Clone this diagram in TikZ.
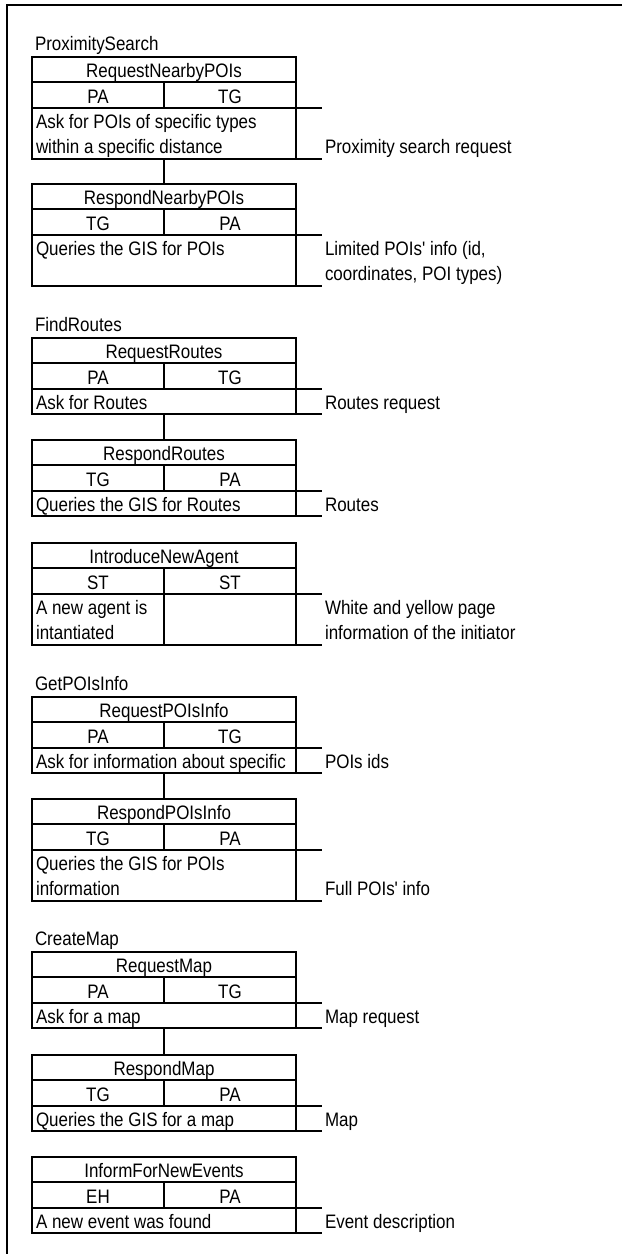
\documentclass[tikz,border=0pt]{standalone}
\usepackage{fontspec}
\newfontfamily\tablefont{Liberation Sans}[FakeStretch=0.87]
\usetikzlibrary{positioning}

\begin{document}
\begin{tikzpicture}[x=1pt, y=-1pt, line width=2pt, font=\tablefont\fontsize{19.5}{25}\selectfont,
  every node/.style={outer sep=0pt},
  msg/.style={draw, anchor=north west, minimum width=264pt, inner xsep=0pt, inner ysep=0pt, text height=20pt, text depth=5pt},
  role/.style={draw, minimum width=132pt, inner xsep=0pt, inner ysep=0pt, text height=21pt, text depth=4.5pt},
  body/.style={draw, anchor=north west, text width=256pt, align=flush left, inner xsep=4pt, inner ysep=0pt, text height=21pt, text depth=#1},
  body/.default=4.5pt,
  info/.style={text width=280pt, align=flush left, inner xsep=3pt, inner ysep=0pt, text height=21pt, text depth=#1},
  info/.default=4.5pt,
  grp/.style={anchor=base west, inner xsep=3pt}]
  \useasboundingbox (0,0) rectangle (622,1254);
  \draw (7,1254) -- (7,5) -- (622,5);

  \node[msg] (reqNear) at (32,57) {RequestNearbyPOIs};
  \node[grp] (proxSearch) at ([yshift=7pt]reqNear.north west) {ProximitySearch};
  \node[role, anchor=north west] (reqNearA) at (reqNear.south west) {PA};
  \node[role, anchor=north east] (reqNearB) at (reqNear.south east) {TG};
  \node[body=30pt] (reqNearD) at (reqNearA.south west) {Ask for POIs of specific types\\within a specific distance};
  \node[info, text height=46pt, text depth=5pt, right=26pt of reqNearD] (reqNearL) {Proximity search request};

  \node[msg] (resNear) at (32,184) {RespondNearbyPOIs};
  \node[role, anchor=north west] (resNearA) at (resNear.south west) {TG};
  \node[role, anchor=north east] (resNearB) at (resNear.south east) {PA};
  \node[body=30pt] (resNearD) at (resNearA.south west) {Queries the GIS for POIs};
  \node[info=30pt, right=26pt of resNearD] (resNearL) {Limited POIs' info (id,\\coordinates, POI types)};

  \node[msg] (reqRoutes) at (32,338) {RequestRoutes};
  \node[grp] (findRoutes) at ([yshift=7pt]reqRoutes.north west) {FindRoutes};
  \node[role, anchor=north west] (reqRoutesA) at (reqRoutes.south west) {PA};
  \node[role, anchor=north east] (reqRoutesB) at (reqRoutes.south east) {TG};
  \node[body] (reqRoutesD) at (reqRoutesA.south west) {Ask for Routes};
  \node[info, right=26pt of reqRoutesD] (reqRoutesL) {Routes request};

  \node[msg] (resRoutes) at (32,440) {RespondRoutes};
  \node[role, anchor=north west] (resRoutesA) at (resRoutes.south west) {TG};
  \node[role, anchor=north east] (resRoutesB) at (resRoutes.south east) {PA};
  \node[body] (resRoutesD) at (resRoutesA.south west) {Queries the GIS for Routes};
  \node[info, right=26pt of resRoutesD] (resRoutesL) {Routes};

  \node[msg] (newAgent) at (32,543) {IntroduceNewAgent};
  \node[role, anchor=north west] (newAgentA) at (newAgent.south west) {ST};
  \node[role, anchor=north east] (newAgentB) at (newAgent.south east) {ST};
  \node[body=30pt, text width=124pt] (newAgentD) at (newAgentA.south west) {A new agent is\\intantiated};
  \node[body=30pt, text width=124pt] (newAgentE) at (newAgentB.south west) {};
  \node[info=30pt, right=26pt of newAgentE] (newAgentL) {White and yellow page\\information of the initiator};

  \node[msg] (reqInfo) at (32,697) {RequestPOIsInfo};
  \node[grp] (getInfo) at ([yshift=7pt]reqInfo.north west) {GetPOIsInfo};
  \node[role, anchor=north west] (reqInfoA) at (reqInfo.south west) {PA};
  \node[role, anchor=north east] (reqInfoB) at (reqInfo.south east) {TG};
  \node[body] (reqInfoD) at (reqInfoA.south west) {\mbox{Ask for information about specific}};
  \node[info, right=26pt of reqInfoD] (reqInfoL) {POIs ids};

  \node[msg] (resInfo) at (32,799) {RespondPOIsInfo};
  \node[role, anchor=north west] (resInfoA) at (resInfo.south west) {TG};
  \node[role, anchor=north east] (resInfoB) at (resInfo.south east) {PA};
  \node[body=30pt] (resInfoD) at (resInfoA.south west) {Queries the GIS for POIs\\information};
  \node[info, text height=46pt, text depth=5pt, right=26pt of resInfoD] (resInfoL) {Full POIs' info};

  \node[msg] (reqMap) at (32,952) {RequestMap};
  \node[grp] (createMap) at ([yshift=7pt]reqMap.north west) {CreateMap};
  \node[role, anchor=north west] (reqMapA) at (reqMap.south west) {PA};
  \node[role, anchor=north east] (reqMapB) at (reqMap.south east) {TG};
  \node[body] (reqMapD) at (reqMapA.south west) {Ask for a map};
  \node[info, right=26pt of reqMapD] (reqMapL) {Map request};

  \node[msg] (resMap) at (32,1055) {RespondMap};
  \node[role, anchor=north west] (resMapA) at (resMap.south west) {TG};
  \node[role, anchor=north east] (resMapB) at (resMap.south east) {PA};
  \node[body] (resMapD) at (resMapA.south west) {Queries the GIS for a map};
  \node[info, right=26pt of resMapD] (resMapL) {Map};

  \node[msg] (newEvents) at (32,1157) {InformForNewEvents};
  \node[role, anchor=north west] (newEventsA) at (newEvents.south west) {EH};
  \node[role, anchor=north east] (newEventsB) at (newEvents.south east) {PA};
  \node[body] (newEventsD) at (newEventsA.south west) {A new event was found};
  \node[info, right=26pt of newEventsD] (newEventsL) {Event description};

  \draw (reqNearD.south) -- (resNear.north);
  \draw (reqRoutesD.south) -- (resRoutes.north);
  \draw (reqInfoD.south) -- (resInfo.north);
  \draw (reqMapD.south) -- (resMap.north);

  \draw (reqNearD.north east) -- (reqNearL.north west);
  \draw (reqNearD.south east) -- (reqNearL.south west);
  \draw (resNearD.north east) -- (resNearL.north west);
  \draw (resNearD.south east) -- (resNearL.south west);
  \draw (reqRoutesD.north east) -- (reqRoutesL.north west);
  \draw (reqRoutesD.south east) -- (reqRoutesL.south west);
  \draw (resRoutesD.north east) -- (resRoutesL.north west);
  \draw (resRoutesD.south east) -- (resRoutesL.south west);
  \draw (newAgentE.north east) -- (newAgentL.north west);
  \draw (newAgentE.south east) -- (newAgentL.south west);
  \draw (reqInfoD.north east) -- (reqInfoL.north west);
  \draw (reqInfoD.south east) -- (reqInfoL.south west);
  \draw (resInfoD.north east) -- (resInfoL.north west);
  \draw (resInfoD.south east) -- (resInfoL.south west);
  \draw (reqMapD.north east) -- (reqMapL.north west);
  \draw (reqMapD.south east) -- (reqMapL.south west);
  \draw (resMapD.north east) -- (resMapL.north west);
  \draw (resMapD.south east) -- (resMapL.south west);
  \draw (newEventsD.north east) -- (newEventsL.north west);
  \draw (newEventsD.south east) -- (newEventsL.south west);
\end{tikzpicture}
\end{document}
